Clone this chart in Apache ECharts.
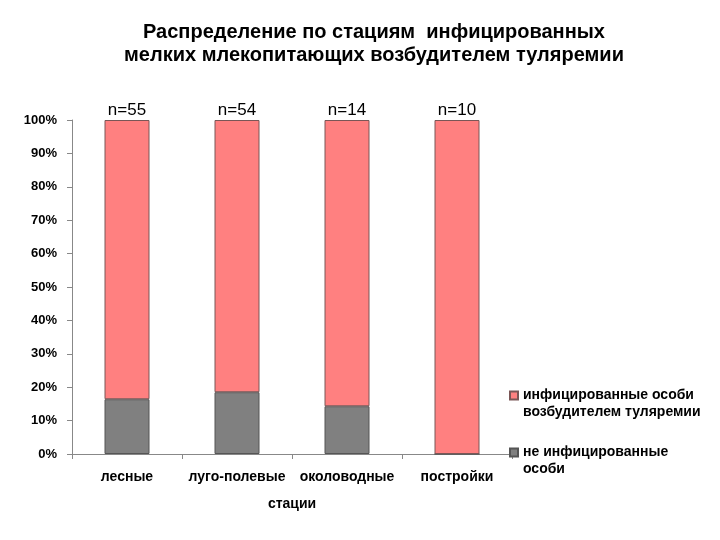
<!DOCTYPE html>
<html><head><meta charset="utf-8">
<script src="https://cdn.jsdelivr.net/npm/echarts@6/dist/echarts.min.js"></script>
<style>html,body{margin:0;padding:0;background:#fff}#c{width:720px;height:540px}</style>
</head><body><div id="c"></div>
<script>
var categories = ['лесные', 'луго-полевые', 'околоводные', 'постройки'];
var sampleSizes = [55, 54, 14, 10];
var notInfected = [16.4, 18.5, 14.3, 0];
var infected = [83.6, 81.5, 85.7, 100];
var seriesNames = ['инфицированные особи возбудителем туляремии', 'не инфицированные особи'];
var legendText = {};
legendText[seriesNames[0]] = ' \nинфицированные особи\nвозбудителем туляремии';
legendText[seriesNames[1]] = ' \nне инфицированные\nособи';

var chart = echarts.init(document.getElementById('c'), null, {renderer: 'canvas'});
var font = 'Liberation Sans, Arial, sans-serif';
chart.setOption({
  animation: false,
  backgroundColor: '#fff',
  title: {
    text: 'Распределение по стациям  инфицированных\nмелких млекопитающих возбудителем туляремии',
    left: 369, top: 16, textAlign: 'center',
    textStyle: {fontFamily: font, fontSize: 20, fontWeight: 'bold', color: '#000', lineHeight: 23}
  },
  grid: {left: 72, right: 208, top: 120, bottom: 86, containLabel: false},
  legend: {
    orient: 'vertical', left: 504, top: 365, itemWidth: 8, itemHeight: 8, itemGap: 6,
    icon: 'rect',
    data: [seriesNames[0], seriesNames[1]],
    formatter: function (n) { return legendText[n]; },
    textStyle: {fontFamily: font, fontSize: 14, fontWeight: 'bold', color: '#000', lineHeight: 17}
  },
  xAxis: {
    type: 'category', data: categories,
    name: 'стации', nameLocation: 'middle', nameGap: 43,
    nameTextStyle: {fontFamily: font, fontSize: 14, fontWeight: 'bold', color: '#000'},
    axisLine: {lineStyle: {color: '#888'}},
    axisTick: {show: true, alignWithLabel: false, length: 5, lineStyle: {color: '#888'}},
    axisLabel: {fontFamily: font, fontSize: 14, fontWeight: 'bold', color: '#000', margin: 16, interval: 0}
  },
  yAxis: {
    type: 'value', min: 0, max: 100, interval: 10,
    axisLine: {show: true, lineStyle: {color: '#888'}},
    axisTick: {show: true, length: 5, lineStyle: {color: '#888'}},
    splitLine: {show: false},
    axisLabel: {fontFamily: font, fontSize: 13, fontWeight: 'bold', color: '#000', margin: 15,
      formatter: '{value}%'}
  },
  series: [
    {
      name: seriesNames[1], type: 'bar', stack: 'a', barWidth: 45, data: notInfected,
      itemStyle: {color: '#808080', borderColor: '#555', borderWidth: 1}
    },
    {
      name: seriesNames[0], type: 'bar', stack: 'a', barWidth: 45, data: infected,
      itemStyle: {color: '#FF8080', borderColor: '#7a5656', borderWidth: 1},
      label: {
        show: true, position: 'top', distance: 1,
        fontFamily: font, fontSize: 17, color: '#000',
        formatter: function (p) { return 'n=' + sampleSizes[p.dataIndex]; }
      }
    }
  ]
});
</script></body></html>
